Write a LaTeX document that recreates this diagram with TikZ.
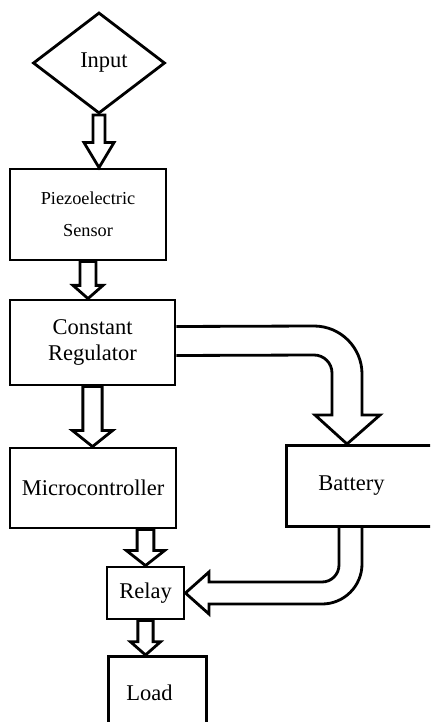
\documentclass[tikz,border=0pt]{standalone}
\usepackage{fontspec}
\setmainfont{Liberation Serif}
\usepackage{tikz}
\usetikzlibrary{shapes.geometric}
\usetikzlibrary{calc}

\tikzset{
  blk/.style={draw, line width=2pt, inner sep=0pt, align=center, font=\fontsize{16}{19}\selectfont},
  hollow/.style={draw, line width=2pt, line join=miter},
}

% hollow block arrow: start, tip, shaft half width, head half width, head length
\newcommand{\hollowdown}[5]{%
  \draw[hollow] let \p1=(#1), \p2=(#2) in
    (\x2-#3,\y1) -- (\x2-#3,\y2+#5) -- (\x2-#4,\y2+#5) -- (\x2,\y2)
    -- (\x2+#4,\y2+#5) -- (\x2+#3,\y2+#5) -- (\x2+#3,\y1) -- cycle;
}

\begin{document}
\begin{tikzpicture}[x=0.025cm, y=-0.025cm]
\clip (0,0) rectangle (430,722);
\begin{scope}
   \node[blk, diamond, aspect=1, minimum width=3.3cm, minimum height=2.525cm] (inp) at (99,63) {\hspace*{0.25cm}\raisebox{-0.07cm}{Input}};
   \node[blk, font=\fontsize{13}{23}\selectfont, minimum width=3.9cm, minimum height=2.275cm] (pz) at (88,214.5) {Piezoelectric\\Sensor};
   \node[blk, minimum width=4.125cm, minimum height=2.125cm] (rg) at (92.5,342.5) {Constant\\Regulator};
   \node[blk, minimum width=4.15cm, minimum height=2cm] (mc) at (93,488) {Microcontroller};
   \node[blk, anchor=north west, minimum width=3.9cm, minimum height=2.025cm] (bt) at (285,444) {Battery\hspace*{0.65cm}};
   \node[blk, minimum width=1.925cm, minimum height=1.3cm] (rl) at (145.5,593) {Relay};
   \node[blk, anchor=north west, minimum width=2.45cm, minimum height=1.8cm] (ld) at (107,655) {Load\hspace*{0.4cm}};

   % straight arrows
   \hollowdown{inp.south}{inp.south |- pz.north}{0.15cm}{0.375cm}{0.625cm}
   \hollowdown{pz.south}{pz.south |- rg.north}{0.2cm}{0.375cm}{0.33cm}
   \hollowdown{rg.south}{rg.south |- mc.north}{0.24cm}{0.5cm}{0.4cm}
   \hollowdown{mc.south}{rl.north}{0.21cm}{0.475cm}{0.375cm}
   \hollowdown{rl.south}{rl.south |- ld.north}{0.19cm}{0.375cm}{0.33cm}

   % regulator to battery
   \coordinate (rgtop) at ($(rg.east)+(0,-16)$);
   \coordinate (rgbot) at ($(rg.east)+(0,13)$);
   \coordinate (bttip) at ($(bt.north west)+(62,0)$);
   \draw[hollow] (rgtop) -- (314,326) arc[start angle=90, end angle=0, radius=1.2cm]
      -- (362,415) -- (380,415) -- (bttip) -- (315,415) -- (332,415)
      -- (332,373) arc[start angle=0, end angle=90, radius=0.45cm] -- (rgbot);

   % battery to relay
   \coordinate (btout) at ($(bt.south west)+(77,0)$);
   \coordinate (btin) at ($(bt.south west)+(54,0)$);
   \draw[hollow] (btout) -- (362,564) arc[start angle=0, end angle=-90, radius=1cm]
      -- (209,604) -- (209,614) -- (rl.east) -- (209,572) -- (209,582)
      -- (322,582) arc[start angle=-90, end angle=0, radius=0.425cm] -- (btin);
\end{scope}
\end{tikzpicture}
\end{document}
